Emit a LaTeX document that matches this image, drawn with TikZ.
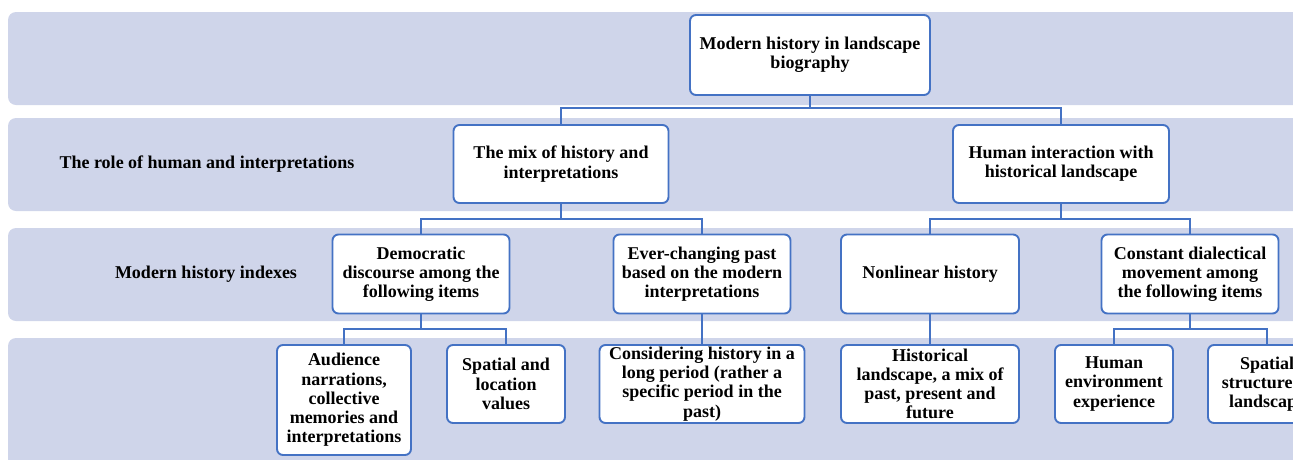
\documentclass[tikz,border=0pt]{standalone}
\usepackage{fontspec}
\setmainfont{Liberation Serif}
\usetikzlibrary{calc}
\definecolor{bandfill}{HTML}{CFD5EA}
\definecolor{boxline}{HTML}{4472C4}
\begin{document}
\begin{tikzpicture}[x=1pt,y=-1pt,
  band/.style={fill=bandfill,draw=none,rounded corners=8pt},
  box/.style={draw=boxline,line width=1.9pt,fill=white,rounded corners=6pt,align=center,inner sep=1pt,
    font=\fontsize{18}{19.2}\selectfont\bfseries},
  lbl/.style={align=center,font=\fontsize{18}{19.2}\selectfont\bfseries},
  conn/.style={draw=boxline,line width=1.9pt}]
\useasboundingbox (0,0) rectangle (1293,459);
\clip (0,0) rectangle (1293,459);
% bands
\fill[band] (8,12) rectangle (1320,105);
\fill[band] (8,118) rectangle (1320,211);
\fill[band] (8,228) rectangle (1320,321);
\fill[band] (8,338) rectangle (1320,480);
% labels
\node[lbl] (lab1) at (207,164) {The role of human and interpretations};
\node[lbl] (lab2) at (206,274) {Modern history indexes};
% nodes
\node[box,minimum width=240pt,minimum height=80pt] (top) at (810,55) {Modern history in landscape\\biography};
\node[box,minimum width=215pt,minimum height=78pt] (mix) at (561,164) {The mix of history and\\interpretations};
\node[box,minimum width=216pt,minimum height=78pt] (human) at (1061,164) {Human interaction with\\historical landscape};
\node[box,minimum width=177pt,minimum height=79pt] (dem) at (421,274) {Democratic\\discourse among the\\following items};
\node[box,minimum width=177pt,minimum height=79pt] (ever) at (702,274) {Ever-changing past\\based on the modern\\interpretations};
\node[box,minimum width=178pt,minimum height=79pt] (nonlin) at (930,274) {Nonlinear history};
\node[box,minimum width=177pt,minimum height=79pt] (const) at (1190,274) {Constant dialectical\\movement among\\the following items};
\node[box,minimum width=134pt,minimum height=110pt] (aud) at (344,400) {Audience\\narrations,\\collective\\memories and\\interpretations};
\node[box,minimum width=118pt,minimum height=78pt] (spat) at (506,384) {Spatial and\\location\\values};
\node[box,minimum width=205pt,minimum height=78pt] (consid) at (702,384) {Considering history in a\\long period (rather a\\specific period in the\\past)};
\node[box,minimum width=178pt,minimum height=78pt] (histl) at (930,384) {Historical\\landscape, a mix of\\past, present and\\future};
\node[box,minimum width=118pt,minimum height=78pt] (humenv) at (1114,384) {Human\\environment\\experience};
\node[box,minimum width=118pt,minimum height=78pt] (spstr) at (1267,384) {Spatial\\structure of\\landscape};
% connector levels
\coordinate (l1) at (0,108);
\coordinate (l2) at (0,219);
\coordinate (l3) at (0,329);
\draw[conn] (top.south) -- (top.south |- l1) -| (mix.north);
\draw[conn] (top.south |- l1) -| (human.north);
\draw[conn] (mix.south) -- (mix.south |- l2) -| (dem.north);
\draw[conn] (mix.south |- l2) -| (ever.north);
\draw[conn] (human.south) -- (human.south |- l2) -| (nonlin.north);
\draw[conn] (human.south |- l2) -| (const.north);
\draw[conn] (dem.south) -- (dem.south |- l3) -| (aud.north);
\draw[conn] (dem.south |- l3) -| (spat.north);
\draw[conn] (ever.south) -- (consid.north);
\draw[conn] (nonlin.south) -- (histl.north);
\draw[conn] (const.south) -- (const.south |- l3) -| (humenv.north);
\draw[conn] (const.south |- l3) -| (spstr.north);
\end{tikzpicture}
\end{document}
